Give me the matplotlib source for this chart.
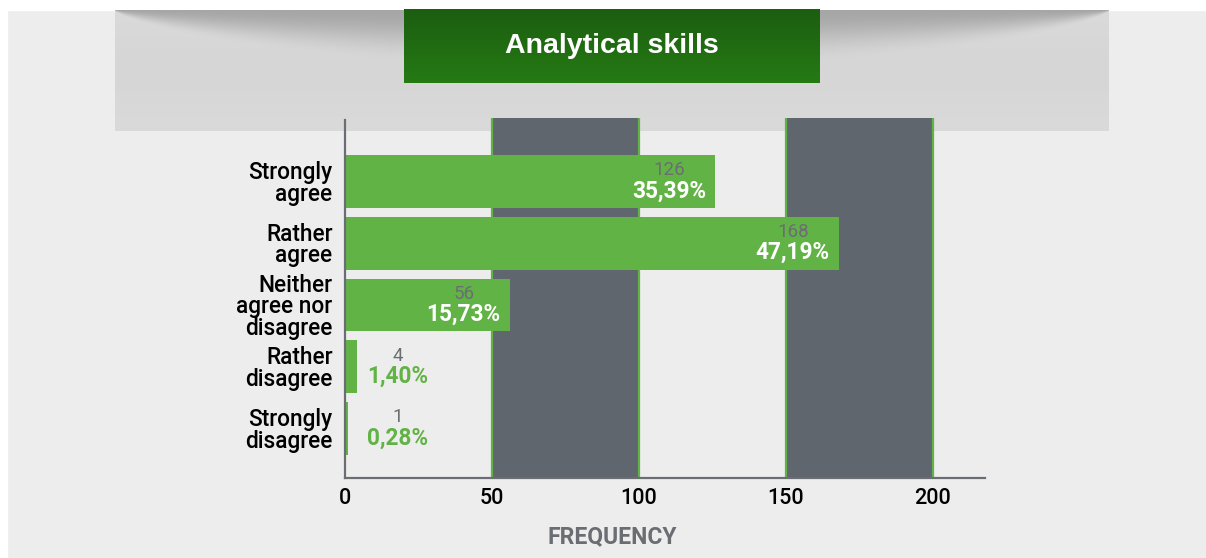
import numpy as np
import matplotlib
matplotlib.use("Agg")
import matplotlib.pyplot as plt
from matplotlib.patches import Rectangle

# ---- data ----
categories = ["Strongly\nagree", "Rather\nagree", "Neither\nagree nor\ndisagree",
              "Rather\ndisagree", "Strongly\ndisagree"]
counts = [126, 168, 56, 4, 1]
percents = ["35,39%", "47,19%", "15,73%", "1,40%", "0,28%"]
xticks = [0, 50, 100, 150, 200]
bands = [(50, 100), (150, 200)]
title = "Analytical skills"
xlabel = "FREQUENCY"

GREEN = "#62b345"
DARK = "#5f666d"
GREY_TXT = "#6a6e73"
FONT = "Roboto"

W, H = 1206, 558
fig = plt.figure(figsize=(W / 100, H / 100), dpi=100, facecolor="#ededed")

# ---- background layer (pixel coordinates) ----
bg = fig.add_axes([0, 0, 1, 1])
bg.set_xlim(0, W)
bg.set_ylim(H, 0)
bg.axis("off")
bg.add_patch(Rectangle((0, 0), W, 10, color="white", zorder=0))
bg.add_patch(Rectangle((0, 0), 7, H, color="white", zorder=0))

# grey panel with curved shadow at top
px0, px1, py0, py1 = 115, 1109, 10, 131
pw, ph = px1 - px0, py1 - py0
xs = np.arange(pw) + 0.5
ys = np.arange(ph) + 0.5
u = (xs - pw / 2) / (pw / 2)
depth = 60 * np.clip(1 - u ** 2, 0, 1) ** 0.7 + 0.5
t = np.clip(ys[:, None] / depth[None, :], 0, 1)
s = t * t * (3 - 2 * t)
base = 218 - 4 * np.exp(-((ys[:, None] - 60) / 40) ** 2) * np.ones((1, pw))
val = 166 + (base - 166) * s
img = np.repeat((val / 255.0)[:, :, None], 3, axis=2)
bg.imshow(img, extent=(px0, px1, py1, py0), aspect="auto", zorder=1,
          interpolation="bilinear")

# title box with vertical gradient
tx0, tx1, ty0, ty1 = 404, 820, 10, 83.5
c_top = np.array([0x1c, 0x5e, 0x10]) / 255.0
c_bot = np.array([0x25, 0x7a, 0x14]) / 255.0
g = np.linspace(0, 1, 64)[:, None]
timg = (c_top[None, :] * (1 - g) + c_bot[None, :] * g)[:, None, :]
bg.imshow(timg, extent=(tx0, tx1, ty1, ty0), aspect="auto", zorder=2,
          interpolation="bilinear")
bg.text((tx0 + tx1) / 2, 46, title, color="white", fontsize=20.5,
        fontweight="bold", family="Liberation Sans", ha="center", va="center",
        zorder=3)

# ---- main axes ----
ax_l, ax_r, ax_t, ax_b = 345, 985, 118, 478
ax = fig.add_axes([ax_l / W, 1 - ax_b / H, (ax_r - ax_l) / W, (ax_b - ax_t) / H])
ax.patch.set_alpha(0)
ax.set_xlim(0, 217.7)
ypos = np.arange(len(categories))
ax.set_ylim(4.803, -1.027)

for a, b in bands:
    ax.axvspan(a, b, color=DARK, zorder=0, lw=0)
    ax.axvline(a, color=GREEN, lw=1.6, zorder=1)
    ax.axvline(b, color=GREEN, lw=1.6, zorder=1)

ax.barh(ypos, counts, height=0.853, color=GREEN, zorder=2)

for sp in ["top", "right"]:
    ax.spines[sp].set_visible(False)
for sp in ["left", "bottom"]:
    ax.spines[sp].set_color(GREY_TXT)
    ax.spines[sp].set_linewidth(1.6)
    ax.spines[sp].set_zorder(3)
ax.spines["left"].set_bounds(4.803, -0.995)

ax.set_xticks(xticks)
ax.set_xticklabels([str(v) for v in xticks], fontsize=15.5, family=FONT,
                   fontweight="medium", color="black")
ax.set_yticks(ypos)
ax.set_yticklabels(categories, fontsize=16.3, family=FONT, fontweight="medium",
                   color="black", linespacing=0.93)
ax.tick_params(axis="x", length=0, pad=7)
ax.tick_params(axis="y", length=0, pad=9)

for i, (c, p) in enumerate(zip(counts, percents)):
    if c > 30:
        ax.annotate(str(c), xy=(c, i), xytext=(-46, 11), textcoords="offset pixels",
                    ha="center", va="center", fontsize=13.5, family=FONT,
                    color=GREY_TXT, zorder=4)
        ax.annotate(p, xy=(c, i), xytext=(-46, -9.5), textcoords="offset pixels",
                    ha="center", va="center", fontsize=16.3, family=FONT,
                    fontweight="bold", color="white", zorder=4)
    else:
        ax.annotate(str(c), xy=(18, i), xytext=(0, 11), textcoords="offset pixels",
                    ha="center", va="center", fontsize=13.5, family=FONT,
                    color=GREY_TXT, zorder=4)
        ax.annotate(p, xy=(18, i), xytext=(0, -9.5), textcoords="offset pixels",
                    ha="center", va="center", fontsize=16.3, family=FONT,
                    fontweight="bold", color=GREEN, zorder=4)

fig.text(612 / W, 1 - 537 / H, xlabel, fontsize=16.5, family=FONT,
         fontweight="bold", color=GREY_TXT, ha="center", va="center")

fig.savefig("out.png", dpi=100, facecolor=fig.get_facecolor())
